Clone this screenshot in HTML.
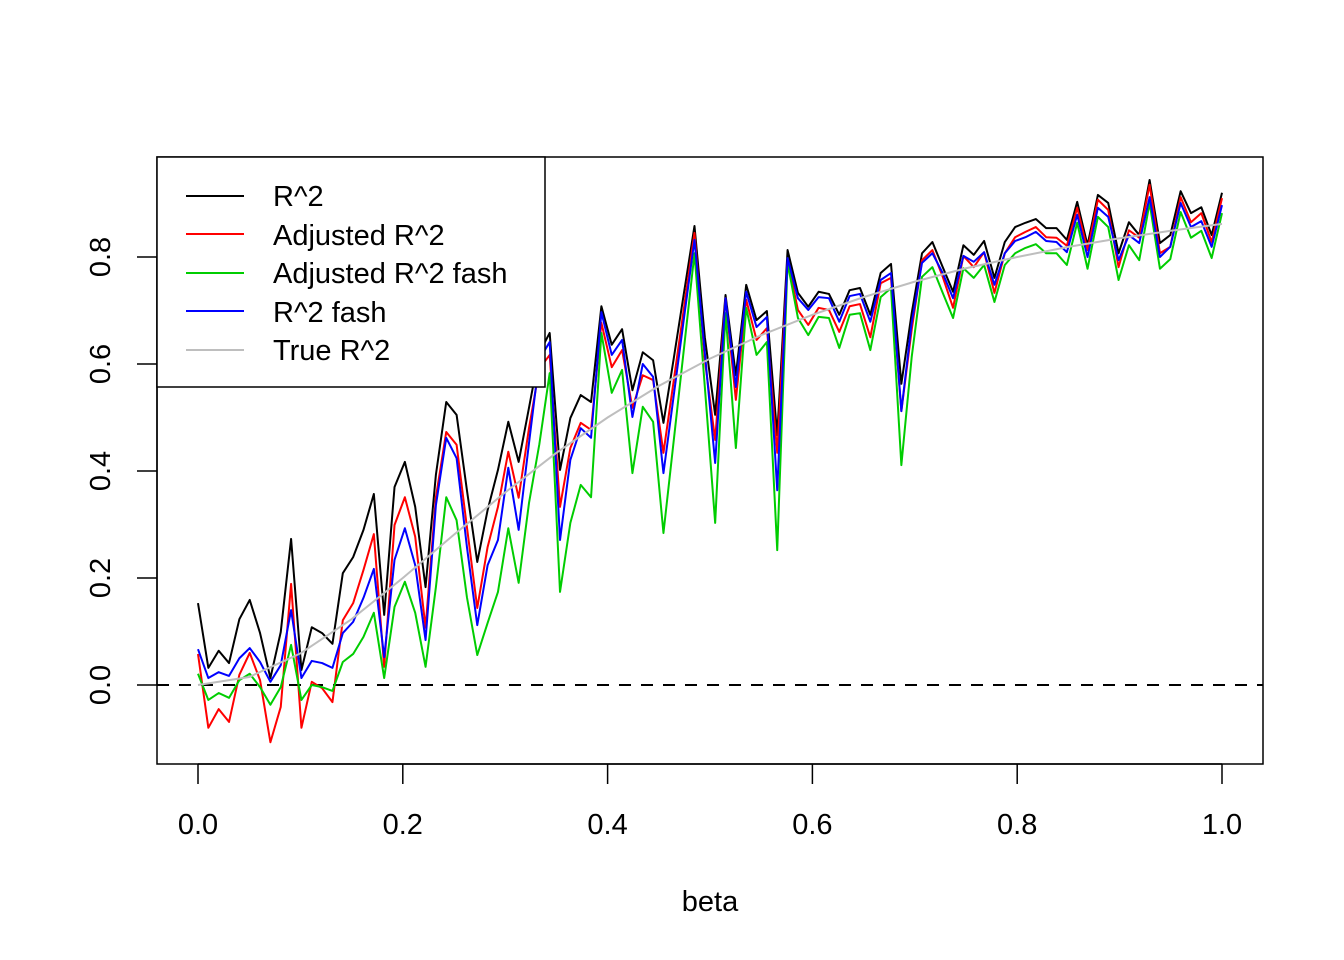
<!DOCTYPE html>
<html><head><meta charset="utf-8"><style>
html,body{margin:0;padding:0;background:#fff;}
svg{display:block;font-family:"Liberation Sans",Arial,sans-serif;}
</style></head><body>
<svg id="chart" width="1344" height="960" viewBox="0 0 1344 960" xmlns="http://www.w3.org/2000/svg">
<rect width="1344" height="960" fill="#fff"/>
<g id="plot"></g>
<g id="axes"></g>
<text x="710" y="911" font-size="29" text-anchor="middle">beta</text>
<g>
<rect x="157" y="157" width="388" height="230" fill="#fff" stroke="#000" stroke-width="1.5"/>
<g><line x1="186" y1="196" x2="244" y2="196" stroke="#000" stroke-width="2"/><text x="273" y="206" font-size="29">R^2</text></g>
<g><line x1="186" y1="234" x2="244" y2="234" stroke="#ff0000" stroke-width="2"/><text x="273" y="245" font-size="29">Adjusted R^2</text></g>
<g><line x1="186" y1="273" x2="244" y2="273" stroke="#00cd00" stroke-width="2"/><text x="273" y="283" font-size="29">Adjusted R^2 fash</text></g>
<g><line x1="186" y1="311" x2="244" y2="311" stroke="#0000ff" stroke-width="2"/><text x="273" y="322" font-size="29">R^2 fash</text></g>
<g><line x1="186" y1="350" x2="244" y2="350" stroke="#bebebe" stroke-width="2"/><text x="273" y="360" font-size="29">True R^2</text></g>
</g>
</svg>
<script>
const r2 = [0.153,0.032,0.064,0.041,0.123,0.159,0.097,0.013,0.099,0.273,0.028,0.108,0.097,0.077,0.209,0.239,0.290,0.357,0.131,0.370,0.417,0.333,0.183,0.393,0.529,0.505,0.364,0.230,0.327,0.402,0.492,0.417,0.518,0.621,0.658,0.402,0.499,0.542,0.529,0.708,0.636,0.665,0.551,0.622,0.607,0.490,0.611,0.735,0.858,0.650,0.505,0.729,0.579,0.748,0.682,0.699,0.467,0.813,0.733,0.707,0.735,0.731,0.692,0.738,0.742,0.692,0.770,0.787,0.563,0.695,0.807,0.828,0.781,0.735,0.822,0.804,0.830,0.761,0.828,0.856,0.864,0.871,0.854,0.854,0.832,0.903,0.822,0.916,0.901,0.807,0.865,0.841,0.944,0.826,0.841,0.923,0.882,0.893,0.841,0.920];
const adjR2 = [0.058,-0.080,-0.045,-0.069,0.019,0.060,0.009,-0.107,-0.041,0.189,-0.080,0.006,-0.006,-0.032,0.121,0.153,0.215,0.282,0.034,0.299,0.351,0.277,0.107,0.351,0.473,0.449,0.295,0.144,0.258,0.333,0.436,0.350,0.480,0.591,0.617,0.333,0.443,0.490,0.477,0.677,0.594,0.626,0.518,0.579,0.570,0.434,0.570,0.707,0.845,0.607,0.458,0.723,0.533,0.720,0.645,0.667,0.434,0.794,0.701,0.673,0.705,0.701,0.660,0.708,0.712,0.650,0.751,0.761,0.512,0.664,0.794,0.813,0.763,0.705,0.802,0.781,0.809,0.733,0.807,0.837,0.847,0.856,0.837,0.836,0.821,0.892,0.813,0.907,0.888,0.781,0.850,0.836,0.935,0.807,0.819,0.912,0.865,0.882,0.828,0.910];
const adjR2Fash = [0.021,-0.028,-0.015,-0.024,0.009,0.021,-0.004,-0.037,-0.004,0.075,-0.028,0,-0.004,-0.011,0.043,0.058,0.090,0.135,0.013,0.146,0.193,0.135,0.034,0.183,0.351,0.308,0.164,0.056,0.116,0.174,0.293,0.191,0.340,0.450,0.583,0.174,0.303,0.374,0.351,0.658,0.546,0.589,0.396,0.520,0.492,0.284,0.458,0.632,0.807,0.557,0.303,0.695,0.443,0.705,0.617,0.641,0.252,0.789,0.686,0.654,0.688,0.686,0.630,0.692,0.695,0.626,0.725,0.742,0.411,0.613,0.763,0.781,0.733,0.686,0.779,0.761,0.785,0.716,0.785,0.807,0.817,0.824,0.807,0.807,0.785,0.864,0.778,0.875,0.856,0.757,0.822,0.794,0.901,0.778,0.796,0.884,0.836,0.849,0.798,0.882];
const r2Fash = [0.067,0.013,0.024,0.017,0.050,0.069,0.043,0.006,0.037,0.140,0.013,0.045,0.041,0.032,0.097,0.118,0.163,0.217,0.052,0.234,0.293,0.224,0.084,0.336,0.462,0.424,0.258,0.112,0.224,0.271,0.406,0.290,0.452,0.609,0.641,0.271,0.421,0.480,0.462,0.697,0.617,0.645,0.501,0.600,0.576,0.396,0.542,0.688,0.832,0.621,0.415,0.723,0.557,0.735,0.669,0.688,0.364,0.798,0.723,0.701,0.725,0.723,0.679,0.727,0.731,0.679,0.757,0.770,0.512,0.677,0.789,0.807,0.770,0.723,0.802,0.791,0.809,0.748,0.807,0.830,0.837,0.847,0.830,0.828,0.809,0.879,0.800,0.892,0.875,0.794,0.841,0.826,0.912,0.800,0.819,0.901,0.856,0.867,0.819,0.897];
const trueBeta = [0,0.05,0.1,0.15,0.2,0.25,0.3,0.35,0.4,0.45,0.5,0.55,0.6,0.65,0.7,0.75,0.8,0.85,0.9,0.95,1];
const trueR2 = [0,0.015,0.059,0.123,0.2,0.281,0.36,0.434,0.5,0.559,0.61,0.654,0.692,0.725,0.754,0.779,0.8,0.819,0.835,0.849,0.862];
const xTicks = ["0.0","0.2","0.4","0.6","0.8","1.0"];
const yTicks = ["0.0","0.2","0.4","0.6","0.8"];

const NS = "http://www.w3.org/2000/svg";
const xS = v => 198 + v * 1024;
const yS = v => 685 - v * 535;
const plot = document.getElementById('plot');
const axes = document.getElementById('axes');
function mk(tag, attrs, parent) {
  const e = document.createElementNS(NS, tag);
  for (const k in attrs) e.setAttribute(k, attrs[k]);
  parent.appendChild(e);
  return e;
}
// clip
const defs = mk('defs', {}, plot);
const cp = mk('clipPath', {id: 'clip'}, defs);
mk('rect', {x: 157, y: 157, width: 1106, height: 607}, cp);

const zl = mk('line', {x1: 157, y1: yS(0), x2: 1263, y2: yS(0), stroke: '#000', 'stroke-width': 2, 'stroke-dasharray': '12,10'}, plot);



function series(vals, color, name) {
  const n = vals.length;
  const pts = vals.map((v, i) => xS(i / (n - 1)).toFixed(2) + ',' + yS(v).toFixed(2)).join(' ');
  const p = mk('polyline', {points: pts, fill: 'none', stroke: color, 'stroke-width': 2, 'stroke-linejoin': 'round', 'clip-path': 'url(#clip)'}, plot);
  
  
}
series(r2, '#000000', 'series-r2');
series(adjR2, '#ff0000', 'series-adjusted-r2');
series(adjR2Fash, '#00cd00', 'series-adjusted-r2-fash');
series(r2Fash, '#0000ff', 'series-r2-fash');
{
  const pts = trueBeta.map((b, i) => xS(b).toFixed(2) + ',' + yS(trueR2[i]).toFixed(2)).join(' ');
  const p = mk('polyline', {points: pts, fill: 'none', stroke: '#bebebe', 'stroke-width': 2, 'clip-path': 'url(#clip)'}, plot);
  
  
}
// box
const box = mk('rect', {x: 157, y: 157, width: 1106, height: 607, fill: 'none', stroke: '#000', 'stroke-width': 1.5}, axes);


// x axis
const xa = mk('line', {x1: xS(0), y1: 764, x2: xS(1), y2: 764, stroke: '#000', 'stroke-width': 1.5}, axes);


xTicks.forEach(t => {
  const x = xS(parseFloat(t));
  const tk = mk('line', {x1: x, y1: 764, x2: x, y2: 784, stroke: '#000', 'stroke-width': 1.5}, axes);
  
  
  const tx = mk('text', {x: x, y: 834, 'font-size': 29, 'text-anchor': 'middle'}, axes);
  
  
  tx.textContent = t;
});
// y axis
const ya = mk('line', {x1: 157, y1: yS(0), x2: 157, y2: yS(0.8), stroke: '#000', 'stroke-width': 1.5}, axes);


yTicks.forEach(t => {
  const y = yS(parseFloat(t));
  const tk = mk('line', {x1: 137, y1: y, x2: 157, y2: y, stroke: '#000', 'stroke-width': 1.5}, axes);
  
  
  const tx = mk('text', {x: 110, y: y, 'font-size': 29, 'text-anchor': 'middle', transform: 'rotate(-90 110 ' + y + ')'}, axes);
  
  
  tx.textContent = t;
});
</script>
</body></html>
